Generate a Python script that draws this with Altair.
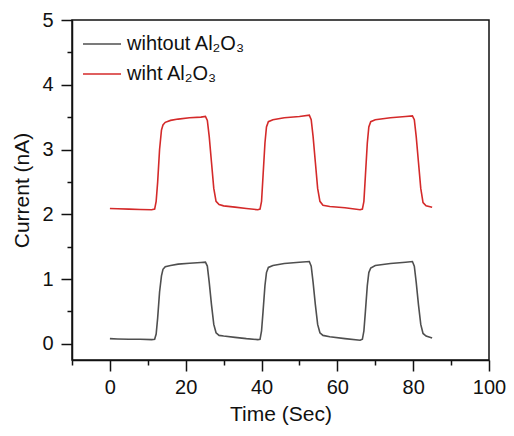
import altair as alt
import pandas as pd

series_names = ["wihtout Al\u2082O\u2083", "wiht Al\u2082O\u2083"]
series_colors = ["#4f4f4f", "#d42a2a"]

t_black = [0, 2, 5, 8, 11, 11.8, 12.2, 12.6, 13.1, 13.6, 14.0, 14.6, 16, 18, 21, 24, 25.2,
           25.7, 26.2, 26.8, 27.4, 28.0, 28.8, 30, 33, 36, 39, 39.6, 40.0, 40.4, 40.9, 41.3,
           41.8, 43, 46, 50, 52.6, 53.1, 53.6, 54.2, 54.8, 55.4, 56.2, 58, 62, 66, 66.6, 67.0,
           67.4, 67.9, 68.3, 68.8, 70, 74, 78, 79.8, 80.3, 80.8, 81.4, 82.0, 82.6, 83.4, 85]
y_black = [0.08, 0.075, 0.07, 0.07, 0.065, 0.07, 0.15, 0.4, 0.8, 1.05, 1.15, 1.19, 1.21, 1.23,
           1.245, 1.255, 1.26, 1.2, 0.95, 0.6, 0.3, 0.17, 0.13, 0.12, 0.1, 0.08, 0.065, 0.07,
           0.2, 0.5, 0.9, 1.1, 1.18, 1.21, 1.24, 1.26, 1.27, 1.2, 0.95, 0.6, 0.3, 0.17, 0.13,
           0.11, 0.08, 0.055, 0.07, 0.2, 0.5, 0.9, 1.1, 1.17, 1.21, 1.24, 1.26, 1.27, 1.2, 0.95,
           0.6, 0.3, 0.16, 0.12, 0.09]

t_red = [0, 2, 5, 8, 11, 11.8, 12.2, 12.6, 13.1, 13.6, 14.0, 14.6, 16, 18, 21, 24, 25.2,
         25.7, 26.2, 26.8, 27.4, 28.0, 28.8, 30, 33, 36, 39, 39.6, 40.0, 40.4, 40.9, 41.3,
         41.8, 43, 46, 50, 52.6, 53.1, 53.6, 54.2, 54.8, 55.4, 56.2, 58, 62, 66, 66.6, 67.0,
         67.4, 67.9, 68.3, 68.8, 70, 74, 78, 79.8, 80.3, 80.8, 81.4, 82.0, 82.6, 83.4, 85]
y_red = [2.09, 2.085, 2.08, 2.075, 2.07, 2.08, 2.2, 2.5, 3.0, 3.3, 3.38, 3.42, 3.45, 3.47,
         3.49, 3.5, 3.51, 3.45, 3.2, 2.8, 2.4, 2.2, 2.15, 2.13, 2.11, 2.09, 2.07, 2.08,
         2.2, 2.6, 3.1, 3.35, 3.43, 3.46, 3.49, 3.51, 3.53, 3.46, 3.2, 2.8, 2.4, 2.2, 2.14,
         2.12, 2.1, 2.07, 2.08, 2.2, 2.6, 3.1, 3.35, 3.43, 3.46, 3.49, 3.51, 3.52, 3.46, 3.2,
         2.8, 2.4, 2.18, 2.13, 2.11]

x_ticks = [-10, 0, 10, 20, 30, 40, 50, 60, 70, 80, 90, 100]
y_ticks = [0, 0.5, 1, 1.5, 2, 2.5, 3, 3.5, 4, 4.5, 5]

df = pd.concat([
    pd.DataFrame({"t": t_black, "y": y_black, "s": series_names[0], "o": 0}),
    pd.DataFrame({"t": t_red, "y": y_red, "s": series_names[1], "o": 1}),
])
df["i"] = range(len(df))

FONT = "Liberation Sans"

chart = alt.Chart(df).mark_line(strokeWidth=1.6).encode(
    x=alt.X("t:Q",
            scale=alt.Scale(domain=[-10, 100], nice=False, zero=False),
            axis=alt.Axis(values=x_ticks, title="Time (Sec)", grid=False,
                          tickSize={"condition": {"test": "datum.value % 20 === 0", "value": 11}, "value": 5},
                          labelExpr="datum.value % 20 === 0 ? datum.label : ''",
                          labelFlush=False, labelOverlap=False, format="d",
                          labelPadding=6, titlePadding=6)),
    y=alt.Y("y:Q",
            scale=alt.Scale(domain=[-0.25, 5], nice=False, zero=False),
            axis=alt.Axis(values=y_ticks, title="Current (nA)", grid=False,
                          tickSize={"condition": {"test": "datum.value % 1 === 0", "value": 11}, "value": 5},
                          labelExpr="datum.value % 1 === 0 ? datum.label : ''",
                          labelFlush=False, labelOverlap=False, format=".0f",
                          labelPadding=8, titlePadding=9)),
    color=alt.Color("s:N",
                    scale=alt.Scale(domain=series_names, range=series_colors),
                    legend=alt.Legend(title=None, orient="none", legendX=10, legendY=4,
                                      symbolType="stroke", symbolSize=1444,
                                      symbolStrokeWidth=1.6, labelOffset=5,
                                      rowPadding=-11, padding=0,
                                      labelFontSize=20, labelFont=FONT,
                                      labelColor="#111")),
    order="i:Q",
    detail="s:N",
).properties(
    width=417, height=340,
    autosize=alt.AutoSizeParams(type="none"),
    padding={"left": 64, "top": 12, "right": 17, "bottom": 68},
).configure_view(
    stroke="#111", strokeWidth=1.5
).configure_axis(
    labelFont=FONT, titleFont=FONT, labelFontSize=20, titleFontSize=21,
    titleFontWeight="normal", labelColor="#111", titleColor="#111",
    domainColor="#111", tickColor="#111", domainWidth=1.5, tickWidth=1.5,
)

chart.save("out.html", embed_options={"renderer": "svg", "actions": False})
